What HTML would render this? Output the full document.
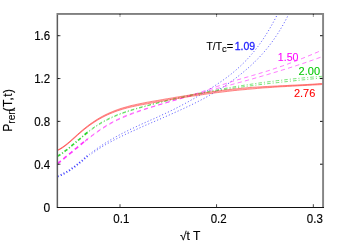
<!DOCTYPE html>
<html><head><meta charset="utf-8"><title>plot</title>
<style>
html,body{margin:0;padding:0;background:#fff;}
body{width:350px;height:245px;overflow:hidden;font-family:"Liberation Sans",sans-serif;}
svg{display:block;will-change:transform;}
text{font-family:"Liberation Sans",sans-serif;}
</style></head><body>
<svg width="350" height="245" viewBox="0 0 350 245">
<rect width="350" height="245" fill="#fff"/>
<defs><clipPath id="cp"><rect x="57.4" y="14" width="266" height="193.5"/></clipPath></defs>
<g clip-path="url(#cp)" fill="none" stroke-linecap="butt" stroke-linejoin="round">
<path d="M57.70,176.38C58.0,176.2 59.0,175.9 59.7,175.6C60.4,175.3 61.0,175.0 61.7,174.7C62.4,174.4 63.0,174.0 63.7,173.7C64.4,173.3 65.0,173.0 65.7,172.6C66.4,172.2 67.0,171.8 67.7,171.4C68.4,171.0 69.0,170.6 69.7,170.2C70.4,169.7 71.0,169.3 71.7,168.8C72.4,168.3 73.0,167.9 73.7,167.4C74.4,166.9 75.0,166.4 75.7,165.8C76.4,165.3 77.0,164.8 77.7,164.3C78.4,163.7 79.0,163.2 79.7,162.6C80.4,162.1 81.0,161.5 81.7,160.9C82.4,160.4 83.0,159.8 83.7,159.3C84.4,158.7 85.0,158.1 85.7,157.6C86.4,157.0 87.0,156.4 87.7,155.9C88.4,155.3 89.4,154.5 89.7,154.3" stroke="#4040ff" stroke-width="2" stroke-dasharray="1.1 2.1"/>
<path d="M91.70,152.50C92.0,152.2 93.0,151.5 93.7,151.0C94.4,150.5 95.0,150.0 95.7,149.6C96.4,149.1 97.0,148.6 97.7,148.1C98.4,147.7 99.0,147.2 99.7,146.8C100.4,146.3 101.0,145.9 101.7,145.4C102.4,145.0 103.0,144.6 103.7,144.1C104.4,143.7 105.0,143.3 105.7,142.8C106.4,142.4 107.0,142.0 107.7,141.6C108.4,141.2 109.0,140.8 109.7,140.4C110.4,140.0 111.0,139.6 111.7,139.2C112.4,138.8 113.0,138.4 113.7,138.1C114.4,137.7 115.0,137.3 115.7,136.9C116.4,136.6 117.0,136.2 117.7,135.8C118.4,135.5 119.0,135.1 119.7,134.8C120.4,134.4 121.0,134.1 121.7,133.7C122.4,133.4 123.0,133.0 123.7,132.7C124.4,132.3 125.0,132.0 125.7,131.7C126.4,131.3 127.0,131.0 127.7,130.7C128.4,130.4 129.0,130.0 129.7,129.7C130.4,129.4 131.0,129.1 131.7,128.7C132.4,128.4 133.0,128.1 133.7,127.8C134.4,127.5 135.0,127.2 135.7,126.9C136.4,126.6 137.0,126.3 137.7,125.9C138.4,125.6 139.0,125.3 139.7,125.0C140.4,124.7 141.0,124.4 141.7,124.1C142.4,123.8 143.0,123.5 143.7,123.2C144.4,122.9 145.0,122.6 145.7,122.3C146.4,122.0 147.0,121.7 147.7,121.4C148.4,121.1 149.0,120.8 149.7,120.5C150.4,120.2 151.0,119.9 151.7,119.7C152.4,119.4 153.0,119.1 153.7,118.8C154.4,118.5 155.0,118.2 155.7,117.9C156.4,117.6 157.0,117.3 157.7,117.0C158.4,116.7 159.0,116.4 159.7,116.1C160.4,115.7 161.0,115.4 161.7,115.1C162.4,114.8 163.0,114.5 163.7,114.2C164.4,113.9 165.0,113.6 165.7,113.3C166.4,113.0 167.0,112.7 167.7,112.3C168.4,112.0 169.0,111.7 169.7,111.4C170.4,111.1 171.0,110.7 171.7,110.4C172.4,110.1 173.0,109.7 173.7,109.4C174.4,109.1 175.0,108.7 175.7,108.4C176.4,108.1 177.0,107.7 177.7,107.4C178.4,107.0 179.0,106.7 179.7,106.3C180.4,106.0 181.0,105.7 181.7,105.3C182.4,104.9 183.0,104.6 183.7,104.2C184.4,103.9 185.0,103.5 185.7,103.2C186.4,102.8 187.0,102.4 187.7,102.1C188.4,101.7 189.0,101.3 189.7,100.9C190.4,100.6 191.0,100.2 191.7,99.8C192.4,99.4 193.0,99.1 193.7,98.7C194.4,98.3 195.0,97.9 195.7,97.5C196.4,97.1 197.0,96.7 197.7,96.4C198.4,96.0 199.0,95.6 199.7,95.2C200.4,94.8 201.0,94.4 201.7,94.0C202.4,93.6 203.0,93.2 203.7,92.8C204.4,92.4 205.0,91.9 205.7,91.5C206.4,91.1 207.0,90.7 207.7,90.3C208.4,89.9 209.0,89.5 209.7,89.0C210.4,88.6 211.0,88.2 211.7,87.8C212.4,87.3 213.0,86.9 213.7,86.5C214.4,86.0 215.0,85.6 215.7,85.2C216.4,84.7 217.0,84.3 217.7,83.8C218.4,83.4 219.0,82.9 219.7,82.5C220.4,82.0 221.0,81.6 221.7,81.1C222.4,80.6 223.0,80.2 223.7,79.7C224.4,79.2 225.0,78.7 225.7,78.2C226.4,77.8 227.0,77.3 227.7,76.8C228.4,76.2 229.0,75.7 229.7,75.2C230.4,74.7 231.0,74.2 231.7,73.6C232.4,73.1 233.0,72.5 233.7,72.0C234.4,71.4 235.0,70.9 235.7,70.3C236.4,69.7 237.0,69.1 237.7,68.5C238.4,67.9 239.0,67.3 239.7,66.7C240.4,66.1 241.0,65.5 241.7,64.8C242.4,64.2 243.0,63.5 243.7,62.9C244.4,62.2 245.0,61.5 245.7,60.9C246.4,60.2 247.0,59.5 247.7,58.7C248.4,58.0 249.0,57.3 249.7,56.5C250.4,55.8 251.0,55.0 251.7,54.2C252.4,53.5 253.0,52.7 253.7,51.8C254.4,51.0 255.0,50.2 255.7,49.4C256.4,48.5 257.0,47.6 257.7,46.8C258.4,45.9 259.0,45.0 259.7,44.0C260.4,43.1 261.0,42.2 261.7,41.2C262.4,40.3 263.0,39.3 263.7,38.3C264.4,37.3 265.0,36.2 265.7,35.2C266.4,34.1 267.0,33.1 267.7,32.0C268.4,30.9 269.0,29.8 269.7,28.6C270.4,27.5 271.0,26.3 271.7,25.1C272.4,23.9 273.0,22.7 273.7,21.5C274.4,20.3 275.0,19.0 275.7,17.7C276.4,16.4 277.3,14.6 277.6,14.0" stroke="#3030ff" stroke-width="0.92" stroke-opacity="0.85" stroke-dasharray="1.1 2.1"/>
<path d="M91.70,153.72C92.0,153.5 93.0,152.8 93.7,152.3C94.4,151.8 95.0,151.4 95.7,150.9C96.4,150.5 97.0,150.0 97.7,149.6C98.4,149.1 99.0,148.7 99.7,148.3C100.4,147.8 101.0,147.4 101.7,147.0C102.4,146.6 103.0,146.2 103.7,145.8C104.4,145.4 105.0,145.0 105.7,144.6C106.4,144.2 107.0,143.9 107.7,143.5C108.4,143.1 109.0,142.7 109.7,142.4C110.4,142.0 111.0,141.6 111.7,141.3C112.4,140.9 113.0,140.6 113.7,140.2C114.4,139.9 115.0,139.5 115.7,139.2C116.4,138.9 117.0,138.5 117.7,138.2C118.4,137.8 119.0,137.5 119.7,137.2C120.4,136.9 121.0,136.5 121.7,136.2C122.4,135.9 123.0,135.6 123.7,135.2C124.4,134.9 125.0,134.6 125.7,134.3C126.4,134.0 127.0,133.7 127.7,133.3C128.4,133.0 129.0,132.7 129.7,132.4C130.4,132.1 131.0,131.8 131.7,131.5C132.4,131.2 133.0,130.9 133.7,130.6C134.4,130.3 135.0,130.0 135.7,129.7C136.4,129.4 137.0,129.1 137.7,128.8C138.4,128.5 139.0,128.2 139.7,127.9C140.4,127.6 141.0,127.3 141.7,127.0C142.4,126.7 143.0,126.4 143.7,126.1C144.4,125.8 145.0,125.5 145.7,125.2C146.4,125.0 147.0,124.7 147.7,124.4C148.4,124.1 149.0,123.8 149.7,123.5C150.4,123.2 151.0,122.9 151.7,122.6C152.4,122.3 153.0,122.1 153.7,121.8C154.4,121.5 155.0,121.2 155.7,120.9C156.4,120.6 157.0,120.3 157.7,120.0C158.4,119.7 159.0,119.4 159.7,119.2C160.4,118.9 161.0,118.6 161.7,118.3C162.4,118.0 163.0,117.7 163.7,117.4C164.4,117.1 165.0,116.8 165.7,116.5C166.4,116.3 167.0,116.0 167.7,115.7C168.4,115.4 169.0,115.1 169.7,114.8C170.4,114.5 171.0,114.2 171.7,113.9C172.4,113.6 173.0,113.3 173.7,113.0C174.4,112.7 175.0,112.4 175.7,112.1C176.4,111.8 177.0,111.5 177.7,111.2C178.4,110.9 179.0,110.6 179.7,110.3C180.4,110.0 181.0,109.7 181.7,109.4C182.4,109.1 183.0,108.8 183.7,108.5C184.4,108.2 185.0,107.9 185.7,107.5C186.4,107.2 187.0,106.9 187.7,106.6C188.4,106.3 189.0,106.0 189.7,105.7C190.4,105.3 191.0,105.0 191.7,104.7C192.4,104.4 193.0,104.0 193.7,103.7C194.4,103.4 195.0,103.0 195.7,102.7C196.4,102.4 197.0,102.0 197.7,101.7C198.4,101.4 199.0,101.0 199.7,100.7C200.4,100.3 201.0,100.0 201.7,99.6C202.4,99.3 203.0,98.9 203.7,98.6C204.4,98.2 205.0,97.8 205.7,97.5C206.4,97.1 207.0,96.7 207.7,96.4C208.4,96.0 209.0,95.6 209.7,95.2C210.4,94.9 211.0,94.5 211.7,94.1C212.4,93.7 213.0,93.3 213.7,92.9C214.4,92.5 215.0,92.1 215.7,91.7C216.4,91.3 217.0,90.9 217.7,90.5C218.4,90.1 219.0,89.7 219.7,89.2C220.4,88.8 221.0,88.4 221.7,88.0C222.4,87.5 223.0,87.1 223.7,86.7C224.4,86.2 225.0,85.8 225.7,85.3C226.4,84.9 227.0,84.4 227.7,84.0C228.4,83.5 229.0,83.0 229.7,82.6C230.4,82.1 231.0,81.6 231.7,81.1C232.4,80.6 233.0,80.2 233.7,79.7C234.4,79.2 235.0,78.7 235.7,78.2C236.4,77.7 237.0,77.1 237.7,76.6C238.4,76.1 239.0,75.6 239.7,75.0C240.4,74.5 241.0,74.0 241.7,73.4C242.4,72.9 243.0,72.3 243.7,71.8C244.4,71.2 245.0,70.7 245.7,70.1C246.4,69.5 247.0,68.9 247.7,68.4C248.4,67.8 249.0,67.2 249.7,66.6C250.4,66.0 251.0,65.4 251.7,64.8C252.4,64.1 253.0,63.5 253.7,62.9C254.4,62.3 255.0,61.6 255.7,60.9C256.4,60.3 257.0,59.6 257.7,58.9C258.4,58.3 259.0,57.6 259.7,56.9C260.4,56.1 261.0,55.4 261.7,54.7C262.4,54.0 263.0,53.2 263.7,52.4C264.4,51.7 265.0,50.9 265.7,50.1C266.4,49.3 267.0,48.5 267.7,47.6C268.4,46.8 269.0,46.0 269.7,45.1C270.4,44.2 271.0,43.3 271.7,42.4C272.4,41.5 273.0,40.6 273.7,39.6C274.4,38.7 275.0,37.7 275.7,36.7C276.4,35.7 277.0,34.7 277.7,33.7C278.4,32.6 279.0,31.6 279.7,30.5C280.4,29.4 281.0,28.3 281.7,27.2C282.4,26.0 283.0,24.9 283.7,23.7C284.4,22.5 285.0,21.3 285.7,20.0C286.4,18.8 287.1,17.3 287.7,16.2C288.2,15.1 288.8,14.1 289.0,13.6" stroke="#3030ff" stroke-width="0.92" stroke-opacity="0.85" stroke-dasharray="1.1 2.1"/>
<path d="M57.40,163.59C57.8,163.3 59.1,162.3 59.9,161.7C60.7,161.0 61.6,160.4 62.4,159.7C63.2,159.0 64.1,158.4 64.9,157.7C65.7,157.0 66.6,156.3 67.4,155.6C68.2,155.0 69.1,154.3 69.9,153.6C70.7,152.9 71.6,152.2 72.4,151.5C73.2,150.8 74.1,150.1 74.9,149.4C75.7,148.7 76.6,148.0 77.4,147.3C78.2,146.7 79.1,146.0 79.9,145.3C80.7,144.6 81.6,143.9 82.4,143.2C83.2,142.6 84.1,141.9 84.9,141.2C85.7,140.6 87.0,139.6 87.4,139.3" stroke="#ff38ff" stroke-width="1.7" stroke-dasharray="4.3 3.2"/>
<path d="M84.90,140.84C85.3,140.5 86.6,139.5 87.4,138.9C88.2,138.2 89.1,137.6 89.9,136.9C90.7,136.3 91.6,135.7 92.4,135.1C93.2,134.4 94.1,133.8 94.9,133.2C95.7,132.6 96.6,132.0 97.4,131.4C98.2,130.8 99.1,130.3 99.9,129.7C100.7,129.1 101.6,128.6 102.4,128.0C103.2,127.5 104.1,126.9 104.9,126.4C105.7,125.9 106.6,125.3 107.4,124.8C108.2,124.3 109.1,123.8 109.9,123.4C110.7,122.9 111.6,122.4 112.4,122.0C113.2,121.5 114.1,121.1 114.9,120.7C115.7,120.2 116.6,119.8 117.4,119.4C118.2,119.0 119.1,118.6 119.9,118.2C120.7,117.8 121.6,117.5 122.4,117.1C123.2,116.7 124.1,116.4 124.9,116.0C125.7,115.7 126.6,115.4 127.4,115.0C128.2,114.7 129.1,114.4 129.9,114.1C130.7,113.8 131.6,113.4 132.4,113.1C133.2,112.8 134.1,112.5 134.9,112.3C135.7,112.0 136.6,111.7 137.4,111.4C138.2,111.1 139.1,110.8 139.9,110.6C140.7,110.3 141.6,110.0 142.4,109.7C143.2,109.5 144.1,109.2 144.9,108.9C145.7,108.7 146.6,108.4 147.4,108.2C148.2,107.9 149.1,107.6 149.9,107.4C150.7,107.1 151.6,106.9 152.4,106.6C153.2,106.4 154.1,106.1 154.9,105.9C155.7,105.6 156.6,105.4 157.4,105.1C158.2,104.9 159.1,104.6 159.9,104.4C160.7,104.2 161.6,103.9 162.4,103.7C163.2,103.4 164.1,103.2 164.9,102.9C165.7,102.7 166.6,102.5 167.4,102.2C168.2,102.0 169.1,101.7 169.9,101.5C170.7,101.3 171.6,101.0 172.4,100.8C173.2,100.5 174.1,100.3 174.9,100.0C175.7,99.8 176.6,99.6 177.4,99.3C178.2,99.1 179.1,98.8 179.9,98.6C180.7,98.3 181.6,98.1 182.4,97.8C183.2,97.5 184.1,97.3 184.9,97.0C185.7,96.8 186.6,96.5 187.4,96.3C188.2,96.0 189.1,95.8 189.9,95.5C190.7,95.3 191.6,95.0 192.4,94.8C193.2,94.5 194.1,94.2 194.9,94.0C195.7,93.7 196.6,93.4 197.4,93.2C198.2,92.9 199.1,92.6 199.9,92.4C200.7,92.1 201.6,91.8 202.4,91.5C203.2,91.3 204.1,91.0 204.9,90.7C205.7,90.4 206.6,90.1 207.4,89.8C208.2,89.6 209.1,89.3 209.9,89.0C210.7,88.7 211.6,88.4 212.4,88.1C213.2,87.8 214.1,87.5 214.9,87.2C215.7,87.0 216.6,86.7 217.4,86.4C218.2,86.1 219.1,85.8 219.9,85.5C220.7,85.2 221.6,85.0 222.4,84.7C223.2,84.4 224.1,84.1 224.9,83.9C225.7,83.6 226.6,83.3 227.4,83.0C228.2,82.8 229.1,82.5 229.9,82.2C230.7,82.0 231.6,81.7 232.4,81.4C233.2,81.2 234.1,80.9 234.9,80.7C235.7,80.4 236.6,80.2 237.4,79.9C238.2,79.7 239.1,79.4 239.9,79.2C240.7,78.9 241.6,78.7 242.4,78.4C243.2,78.2 244.1,77.9 244.9,77.7C245.7,77.5 246.6,77.2 247.4,77.0C248.2,76.7 249.1,76.5 249.9,76.2C250.7,76.0 251.6,75.8 252.4,75.5C253.2,75.3 254.1,75.0 254.9,74.8C255.7,74.5 256.6,74.3 257.4,74.1C258.2,73.8 259.1,73.6 259.9,73.3C260.7,73.1 261.6,72.8 262.4,72.5C263.2,72.3 264.1,72.0 264.9,71.8C265.7,71.5 266.6,71.3 267.4,71.0C268.2,70.7 269.1,70.5 269.9,70.2C270.7,69.9 271.6,69.6 272.4,69.4C273.2,69.1 274.1,68.8 274.9,68.5C275.7,68.3 276.6,68.0 277.4,67.7C278.2,67.4 279.1,67.1 279.9,66.8C280.7,66.5 281.6,66.2 282.4,66.0C283.2,65.7 284.1,65.4 284.9,65.1C285.7,64.8 286.6,64.5 287.4,64.2C288.2,63.9 289.1,63.5 289.9,63.2C290.7,62.9 291.6,62.6 292.4,62.3C293.2,62.0 294.1,61.7 294.9,61.4C295.7,61.0 296.6,60.7 297.4,60.4C298.2,60.1 299.1,59.7 299.9,59.4C300.7,59.1 301.6,58.7 302.4,58.4C303.2,58.1 304.1,57.7 304.9,57.4C305.7,57.1 306.6,56.7 307.4,56.4C308.2,56.0 309.1,55.7 309.9,55.3C310.7,55.0 311.6,54.7 312.4,54.3C313.2,53.9 314.1,53.6 314.9,53.2C315.7,52.9 316.6,52.5 317.4,52.2C318.2,51.8 319.1,51.4 319.9,51.1C320.7,50.7 321.8,50.2 322.4,50.0C323.0,49.7 323.3,49.5 323.5,49.5" stroke="#ff28ff" stroke-width="0.8" stroke-opacity="0.78" stroke-dasharray="4.3 3.2"/>
<path d="M84.90,141.55C85.3,141.2 86.6,140.2 87.4,139.6C88.2,138.9 89.1,138.3 89.9,137.6C90.7,137.0 91.6,136.4 92.4,135.7C93.2,135.1 94.1,134.5 94.9,133.9C95.7,133.3 96.6,132.7 97.4,132.1C98.2,131.5 99.1,130.9 99.9,130.3C100.7,129.8 101.6,129.2 102.4,128.7C103.2,128.1 104.1,127.6 104.9,127.1C105.7,126.6 106.6,126.0 107.4,125.5C108.2,125.0 109.1,124.6 109.9,124.1C110.7,123.6 111.6,123.1 112.4,122.7C113.2,122.3 114.1,121.8 114.9,121.4C115.7,121.0 116.6,120.5 117.4,120.1C118.2,119.7 119.1,119.3 119.9,119.0C120.7,118.6 121.6,118.2 122.4,117.8C123.2,117.5 124.1,117.1 124.9,116.8C125.7,116.4 126.6,116.1 127.4,115.7C128.2,115.4 129.1,115.1 129.9,114.8C130.7,114.4 131.6,114.1 132.4,113.8C133.2,113.5 134.1,113.2 134.9,112.9C135.7,112.6 136.6,112.3 137.4,112.0C138.2,111.7 139.1,111.4 139.9,111.1C140.7,110.8 141.6,110.6 142.4,110.3C143.2,110.0 144.1,109.7 144.9,109.4C145.7,109.2 146.6,108.9 147.4,108.6C148.2,108.3 149.1,108.1 149.9,107.8C150.7,107.5 151.6,107.3 152.4,107.0C153.2,106.7 154.1,106.5 154.9,106.2C155.7,106.0 156.6,105.7 157.4,105.4C158.2,105.2 159.1,104.9 159.9,104.7C160.7,104.4 161.6,104.2 162.4,103.9C163.2,103.7 164.1,103.4 164.9,103.2C165.7,102.9 166.6,102.7 167.4,102.5C168.2,102.2 169.1,102.0 169.9,101.7C170.7,101.5 171.6,101.2 172.4,101.0C173.2,100.8 174.1,100.5 174.9,100.3C175.7,100.1 176.6,99.8 177.4,99.6C178.2,99.4 179.1,99.1 179.9,98.9C180.7,98.7 181.6,98.4 182.4,98.2C183.2,98.0 184.1,97.7 184.9,97.5C185.7,97.3 186.6,97.0 187.4,96.8C188.2,96.6 189.1,96.3 189.9,96.1C190.7,95.8 191.6,95.6 192.4,95.4C193.2,95.1 194.1,94.9 194.9,94.6C195.7,94.4 196.6,94.2 197.4,93.9C198.2,93.7 199.1,93.4 199.9,93.2C200.7,93.0 201.6,92.7 202.4,92.5C203.2,92.3 204.1,92.0 204.9,91.8C205.7,91.6 206.6,91.3 207.4,91.1C208.2,90.9 209.1,90.7 209.9,90.4C210.7,90.2 211.6,90.0 212.4,89.8C213.2,89.6 214.1,89.3 214.9,89.1C215.7,88.9 216.6,88.7 217.4,88.4C218.2,88.2 219.1,88.0 219.9,87.8C220.7,87.5 221.6,87.3 222.4,87.1C223.2,86.9 224.1,86.6 224.9,86.4C225.7,86.2 226.6,86.0 227.4,85.7C228.2,85.5 229.1,85.3 229.9,85.1C230.7,84.8 231.6,84.6 232.4,84.4C233.2,84.2 234.1,83.9 234.9,83.7C235.7,83.5 236.6,83.3 237.4,83.0C238.2,82.8 239.1,82.6 239.9,82.3C240.7,82.1 241.6,81.9 242.4,81.7C243.2,81.4 244.1,81.2 244.9,81.0C245.7,80.7 246.6,80.5 247.4,80.3C248.2,80.0 249.1,79.8 249.9,79.6C250.7,79.3 251.6,79.1 252.4,78.9C253.2,78.6 254.1,78.4 254.9,78.2C255.7,77.9 256.6,77.7 257.4,77.5C258.2,77.2 259.1,77.0 259.9,76.7C260.7,76.5 261.6,76.3 262.4,76.0C263.2,75.8 264.1,75.5 264.9,75.3C265.7,75.1 266.6,74.8 267.4,74.6C268.2,74.3 269.1,74.1 269.9,73.8C270.7,73.6 271.6,73.3 272.4,73.1C273.2,72.8 274.1,72.6 274.9,72.3C275.7,72.1 276.6,71.8 277.4,71.6C278.2,71.3 279.1,71.1 279.9,70.8C280.7,70.6 281.6,70.3 282.4,70.0C283.2,69.8 284.1,69.5 284.9,69.3C285.7,69.0 286.6,68.7 287.4,68.5C288.2,68.2 289.1,68.0 289.9,67.7C290.7,67.4 291.6,67.2 292.4,66.9C293.2,66.6 294.1,66.4 294.9,66.1C295.7,65.8 296.6,65.5 297.4,65.3C298.2,65.0 299.1,64.7 299.9,64.4C300.7,64.2 301.6,63.9 302.4,63.6C303.2,63.3 304.1,63.0 304.9,62.8C305.7,62.5 306.6,62.2 307.4,61.9C308.2,61.6 309.1,61.3 309.9,61.0C310.7,60.7 311.6,60.4 312.4,60.2C313.2,59.9 314.1,59.6 314.9,59.3C315.7,59.0 316.6,58.7 317.4,58.4C318.2,58.1 319.1,57.8 319.9,57.5C320.7,57.2 321.8,56.8 322.4,56.5C323.0,56.3 323.3,56.2 323.5,56.1" stroke="#ff28ff" stroke-width="0.8" stroke-opacity="0.78" stroke-dasharray="4.3 3.2"/>
<path d="M57.40,156.41C57.8,156.1 59.1,155.4 59.9,154.8C60.7,154.3 61.6,153.7 62.4,153.1C63.2,152.5 64.1,151.9 64.9,151.2C65.7,150.6 66.6,150.0 67.4,149.3C68.2,148.6 69.1,148.0 69.9,147.3C70.7,146.6 71.6,145.9 72.4,145.2C73.2,144.5 74.1,143.8 74.9,143.1C75.7,142.4 76.6,141.6 77.4,140.9C78.2,140.2 79.1,139.5 79.9,138.8C80.7,138.1 81.6,137.3 82.4,136.6C83.2,135.9 84.1,135.2 84.9,134.5C85.7,133.8 87.0,132.8 87.4,132.5" stroke="#38d838" stroke-width="1.7" stroke-dasharray="3.6 2 1.1 2"/>
<path d="M84.90,134.13C85.3,133.8 86.6,132.8 87.4,132.1C88.2,131.4 89.1,130.8 89.9,130.1C90.7,129.5 91.6,128.9 92.4,128.3C93.2,127.7 94.1,127.1 94.9,126.5C95.7,126.0 96.6,125.4 97.4,124.9C98.2,124.3 99.1,123.8 99.9,123.3C100.7,122.8 101.6,122.3 102.4,121.8C103.2,121.4 104.1,120.9 104.9,120.5C105.7,120.0 106.6,119.6 107.4,119.2C108.2,118.7 109.1,118.3 109.9,117.9C110.7,117.5 111.6,117.2 112.4,116.8C113.2,116.4 114.1,116.1 114.9,115.7C115.7,115.4 116.6,115.0 117.4,114.7C118.2,114.4 119.1,114.0 119.9,113.7C120.7,113.4 121.6,113.1 122.4,112.8C123.2,112.5 124.1,112.2 124.9,112.0C125.7,111.7 126.6,111.4 127.4,111.1C128.2,110.9 129.1,110.6 129.9,110.3C130.7,110.1 131.6,109.8 132.4,109.6C133.2,109.3 134.1,109.1 134.9,108.8C135.7,108.6 136.6,108.4 137.4,108.1C138.2,107.9 139.1,107.7 139.9,107.4C140.7,107.2 141.6,107.0 142.4,106.7C143.2,106.5 144.1,106.3 144.9,106.1C145.7,105.8 146.6,105.6 147.4,105.4C148.2,105.2 149.1,104.9 149.9,104.7C150.7,104.5 151.6,104.3 152.4,104.0C153.2,103.8 154.1,103.6 154.9,103.4C155.7,103.2 156.6,103.0 157.4,102.7C158.2,102.5 159.1,102.3 159.9,102.1C160.7,101.9 161.6,101.7 162.4,101.5C163.2,101.3 164.1,101.1 164.9,100.9C165.7,100.6 166.6,100.4 167.4,100.2C168.2,100.0 169.1,99.8 169.9,99.6C170.7,99.4 171.6,99.2 172.4,99.0C173.2,98.8 174.1,98.6 174.9,98.4C175.7,98.2 176.6,98.0 177.4,97.9C178.2,97.7 179.1,97.5 179.9,97.3C180.7,97.1 181.6,96.9 182.4,96.7C183.2,96.5 184.1,96.3 184.9,96.1C185.7,96.0 186.6,95.8 187.4,95.6C188.2,95.4 189.1,95.2 189.9,95.0C190.7,94.9 191.6,94.7 192.4,94.5C193.2,94.3 194.1,94.1 194.9,94.0C195.7,93.8 196.6,93.6 197.4,93.5C198.2,93.3 199.1,93.2 199.9,93.0C200.7,92.8 201.6,92.7 202.4,92.5C203.2,92.4 204.1,92.2 204.9,92.1C205.7,91.9 206.6,91.7 207.4,91.6C208.2,91.4 209.1,91.3 209.9,91.1C210.7,91.0 211.6,90.8 212.4,90.7C213.2,90.6 214.1,90.4 214.9,90.3C215.7,90.1 216.6,90.0 217.4,89.8C218.2,89.6 219.1,89.5 219.9,89.3C220.7,89.2 221.6,89.0 222.4,88.9C223.2,88.7 224.1,88.6 224.9,88.4C225.7,88.3 226.6,88.1 227.4,88.0C228.2,87.9 229.1,87.7 229.9,87.6C230.7,87.4 231.6,87.3 232.4,87.1C233.2,87.0 234.1,86.9 234.9,86.7C235.7,86.6 236.6,86.4 237.4,86.3C238.2,86.2 239.1,86.0 239.9,85.9C240.7,85.8 241.6,85.6 242.4,85.5C243.2,85.4 244.1,85.2 244.9,85.1C245.7,85.0 246.6,84.9 247.4,84.7C248.2,84.6 249.1,84.5 249.9,84.4C250.7,84.2 251.6,84.1 252.4,84.0C253.2,83.9 254.1,83.7 254.9,83.6C255.7,83.5 256.6,83.4 257.4,83.3C258.2,83.1 259.1,83.0 259.9,82.9C260.7,82.8 261.6,82.7 262.4,82.6C263.2,82.5 264.1,82.3 264.9,82.2C265.7,82.1 266.6,82.0 267.4,81.9C268.2,81.8 269.1,81.7 269.9,81.6C270.7,81.5 271.6,81.4 272.4,81.3C273.2,81.2 274.1,81.1 274.9,81.0C275.7,80.9 276.6,80.7 277.4,80.6C278.2,80.5 279.1,80.4 279.9,80.4C280.7,80.3 281.6,80.2 282.4,80.1C283.2,80.0 284.1,79.9 284.9,79.8C285.7,79.7 286.6,79.6 287.4,79.5C288.2,79.4 289.1,79.3 289.9,79.2C290.7,79.1 291.6,79.1 292.4,79.0C293.2,78.9 294.1,78.8 294.9,78.7C295.7,78.6 296.6,78.5 297.4,78.5C298.2,78.4 299.1,78.3 299.9,78.2C300.7,78.1 301.6,78.1 302.4,78.0C303.2,77.9 304.1,77.8 304.9,77.7C305.7,77.7 306.6,77.6 307.4,77.5C308.2,77.4 309.1,77.4 309.9,77.3C310.7,77.2 311.6,77.1 312.4,77.1C313.2,77.0 314.1,76.9 314.9,76.9C315.7,76.8 316.6,76.7 317.4,76.7C318.2,76.6 319.1,76.5 319.9,76.5C320.7,76.4 321.8,76.3 322.4,76.3C323.0,76.2 323.3,76.2 323.5,76.2" stroke="#28d428" stroke-width="0.8" stroke-opacity="0.78" stroke-dasharray="3.6 2 1.1 2"/>
<path d="M84.90,134.90C85.3,134.6 86.6,133.5 87.4,132.9C88.2,132.2 89.1,131.6 89.9,130.9C90.7,130.3 91.6,129.7 92.4,129.1C93.2,128.5 94.1,127.9 94.9,127.3C95.7,126.7 96.6,126.2 97.4,125.6C98.2,125.1 99.1,124.6 99.9,124.1C100.7,123.5 101.6,123.1 102.4,122.6C103.2,122.1 104.1,121.6 104.9,121.2C105.7,120.7 106.6,120.3 107.4,119.9C108.2,119.5 109.1,119.1 109.9,118.7C110.7,118.3 111.6,117.9 112.4,117.5C113.2,117.1 114.1,116.7 114.9,116.4C115.7,116.0 116.6,115.7 117.4,115.3C118.2,115.0 119.1,114.7 119.9,114.4C120.7,114.0 121.6,113.7 122.4,113.4C123.2,113.1 124.1,112.8 124.9,112.5C125.7,112.2 126.6,112.0 127.4,111.7C128.2,111.4 129.1,111.1 129.9,110.9C130.7,110.6 131.6,110.3 132.4,110.1C133.2,109.8 134.1,109.6 134.9,109.3C135.7,109.1 136.6,108.8 137.4,108.6C138.2,108.4 139.1,108.1 139.9,107.9C140.7,107.7 141.6,107.4 142.4,107.2C143.2,107.0 144.1,106.7 144.9,106.5C145.7,106.3 146.6,106.0 147.4,105.8C148.2,105.6 149.1,105.4 149.9,105.2C150.7,104.9 151.6,104.7 152.4,104.5C153.2,104.3 154.1,104.1 154.9,103.9C155.7,103.6 156.6,103.4 157.4,103.2C158.2,103.0 159.1,102.8 159.9,102.6C160.7,102.4 161.6,102.2 162.4,102.0C163.2,101.8 164.1,101.6 164.9,101.4C165.7,101.2 166.6,101.0 167.4,100.8C168.2,100.6 169.1,100.4 169.9,100.2C170.7,100.0 171.6,99.8 172.4,99.6C173.2,99.5 174.1,99.3 174.9,99.1C175.7,98.9 176.6,98.7 177.4,98.5C178.2,98.4 179.1,98.2 179.9,98.0C180.7,97.8 181.6,97.6 182.4,97.5C183.2,97.3 184.1,97.1 184.9,96.9C185.7,96.8 186.6,96.6 187.4,96.4C188.2,96.3 189.1,96.1 189.9,95.9C190.7,95.8 191.6,95.6 192.4,95.4C193.2,95.3 194.1,95.1 194.9,94.9C195.7,94.8 196.6,94.6 197.4,94.4C198.2,94.3 199.1,94.1 199.9,93.9C200.7,93.8 201.6,93.6 202.4,93.4C203.2,93.3 204.1,93.1 204.9,92.9C205.7,92.8 206.6,92.6 207.4,92.5C208.2,92.3 209.1,92.2 209.9,92.0C210.7,91.8 211.6,91.7 212.4,91.5C213.2,91.4 214.1,91.2 214.9,91.1C215.7,90.9 216.6,90.8 217.4,90.7C218.2,90.5 219.1,90.4 219.9,90.3C220.7,90.1 221.6,90.0 222.4,89.9C223.2,89.7 224.1,89.6 224.9,89.5C225.7,89.3 226.6,89.2 227.4,89.1C228.2,89.0 229.1,88.8 229.9,88.7C230.7,88.6 231.6,88.5 232.4,88.3C233.2,88.2 234.1,88.1 234.9,88.0C235.7,87.8 236.6,87.7 237.4,87.6C238.2,87.5 239.1,87.4 239.9,87.3C240.7,87.1 241.6,87.0 242.4,86.9C243.2,86.8 244.1,86.7 244.9,86.6C245.7,86.5 246.6,86.3 247.4,86.2C248.2,86.1 249.1,86.0 249.9,85.9C250.7,85.8 251.6,85.7 252.4,85.6C253.2,85.5 254.1,85.4 254.9,85.3C255.7,85.1 256.6,85.0 257.4,84.9C258.2,84.8 259.1,84.7 259.9,84.6C260.7,84.5 261.6,84.4 262.4,84.3C263.2,84.2 264.1,84.1 264.9,84.0C265.7,83.9 266.6,83.8 267.4,83.7C268.2,83.6 269.1,83.5 269.9,83.4C270.7,83.3 271.6,83.2 272.4,83.1C273.2,83.0 274.1,83.0 274.9,82.9C275.7,82.8 276.6,82.7 277.4,82.6C278.2,82.5 279.1,82.4 279.9,82.3C280.7,82.2 281.6,82.1 282.4,82.0C283.2,81.9 284.1,81.8 284.9,81.8C285.7,81.7 286.6,81.6 287.4,81.5C288.2,81.4 289.1,81.3 289.9,81.2C290.7,81.1 291.6,81.0 292.4,81.0C293.2,80.9 294.1,80.8 294.9,80.7C295.7,80.6 296.6,80.5 297.4,80.4C298.2,80.3 299.1,80.3 299.9,80.2C300.7,80.1 301.6,80.0 302.4,79.9C303.2,79.8 304.1,79.8 304.9,79.7C305.7,79.6 306.6,79.5 307.4,79.4C308.2,79.3 309.1,79.3 309.9,79.2C310.7,79.1 311.6,79.0 312.4,78.9C313.2,78.8 314.1,78.8 314.9,78.7C315.7,78.6 316.6,78.5 317.4,78.4C318.2,78.4 319.1,78.3 319.9,78.2C320.7,78.1 321.8,78.0 322.4,78.0C323.0,77.9 323.3,77.9 323.5,77.8" stroke="#28d428" stroke-width="0.8" stroke-opacity="0.78" stroke-dasharray="3.6 2 1.1 2"/>
<path d="M57.40,150.04C57.8,149.8 59.1,149.2 59.9,148.8C60.7,148.3 61.6,147.8 62.4,147.2C63.2,146.6 64.1,146.0 64.9,145.4C65.7,144.8 66.6,144.1 67.4,143.4C68.2,142.7 69.1,142.0 69.9,141.3C70.7,140.5 71.6,139.8 72.4,139.0C73.2,138.3 74.1,137.5 74.9,136.8C75.7,136.0 76.6,135.2 77.4,134.5C78.2,133.7 79.1,133.0 79.9,132.3C80.7,131.5 81.6,130.8 82.4,130.1C83.2,129.4 84.1,128.7 84.9,128.1C85.7,127.4 86.6,126.7 87.4,126.1C88.2,125.5 89.1,124.8 89.9,124.2C90.7,123.6 91.6,123.0 92.4,122.5C93.2,121.9 94.1,121.3 94.9,120.8C95.7,120.2 96.6,119.7 97.4,119.2C98.2,118.7 99.1,118.2 99.9,117.7C100.7,117.2 101.6,116.8 102.4,116.3C103.2,115.9 104.1,115.4 104.9,115.0C105.7,114.6 106.6,114.2 107.4,113.8C108.2,113.4 109.1,113.0 109.9,112.7C110.7,112.3 111.6,111.9 112.4,111.6C113.2,111.3 114.1,110.9 114.9,110.6C115.7,110.3 116.6,110.0 117.4,109.7C118.2,109.4 119.1,109.1 119.9,108.8C120.7,108.6 121.6,108.3 122.4,108.0C123.2,107.8 124.1,107.5 124.9,107.3C125.7,107.1 126.6,106.8 127.4,106.6C128.2,106.4 129.1,106.2 129.9,105.9C130.7,105.7 131.6,105.5 132.4,105.3C133.2,105.1 134.1,104.9 134.9,104.8C135.7,104.6 136.6,104.4 137.4,104.2C138.2,104.0 139.1,103.9 139.9,103.7C140.7,103.5 141.6,103.4 142.4,103.2C143.2,103.0 144.1,102.9 144.9,102.7C145.7,102.6 146.6,102.4 147.4,102.2C148.2,102.1 149.1,101.9 149.9,101.8C150.7,101.6 151.6,101.5 152.4,101.3C153.2,101.2 154.1,101.0 154.9,100.9C155.7,100.8 156.6,100.6 157.4,100.5C158.2,100.3 159.1,100.2 159.9,100.0C160.7,99.9 161.6,99.7 162.4,99.6C163.2,99.4 164.1,99.3 164.9,99.1C165.7,99.0 166.6,98.9 167.4,98.7C168.2,98.6 169.1,98.4 169.9,98.3C170.7,98.1 171.6,98.0 172.4,97.9C173.2,97.7 174.1,97.6 174.9,97.4C175.7,97.3 176.6,97.2 177.4,97.0C178.2,96.9 179.1,96.7 179.9,96.6C180.7,96.5 181.6,96.3 182.4,96.2C183.2,96.1 184.1,95.9 184.9,95.8C185.7,95.7 186.6,95.5 187.4,95.4C188.2,95.3 189.1,95.1 189.9,95.0C190.7,94.9 191.6,94.7 192.4,94.6C193.2,94.5 194.1,94.3 194.9,94.2C195.7,94.1 196.6,94.0 197.4,93.8C198.2,93.7 199.1,93.6 199.9,93.5C200.7,93.3 201.6,93.2 202.4,93.1C203.2,93.0 204.1,92.9 204.9,92.7C205.7,92.6 206.6,92.5 207.4,92.4C208.2,92.3 209.1,92.2 209.9,92.0C210.7,91.9 211.6,91.8 212.4,91.7C213.2,91.6 214.1,91.5 214.9,91.4C215.7,91.3 216.6,91.1 217.4,91.0C218.2,90.9 219.1,90.8 219.9,90.7C220.7,90.6 221.6,90.5 222.4,90.4C223.2,90.3 224.1,90.2 224.9,90.1C225.7,90.0 226.6,89.9 227.4,89.8C228.2,89.7 229.1,89.6 229.9,89.5C230.7,89.4 231.6,89.3 232.4,89.2C233.2,89.1 234.1,89.1 234.9,89.0C235.7,88.9 236.6,88.8 237.4,88.7C238.2,88.6 239.1,88.5 239.9,88.4C240.7,88.4 241.6,88.3 242.4,88.2C243.2,88.1 244.1,88.0 244.9,88.0C245.7,87.9 246.6,87.8 247.4,87.7C248.2,87.7 249.1,87.6 249.9,87.5C250.7,87.5 251.6,87.4 252.4,87.3C253.2,87.3 254.1,87.2 254.9,87.2C255.7,87.1 256.6,87.1 257.4,87.0C258.2,87.0 259.1,86.9 259.9,86.9C260.7,86.8 261.6,86.8 262.4,86.7C263.2,86.7 264.1,86.6 264.9,86.6C265.7,86.5 266.6,86.5 267.4,86.5C268.2,86.4 269.1,86.4 269.9,86.3C270.7,86.3 271.6,86.3 272.4,86.2C273.2,86.2 274.1,86.1 274.9,86.1C275.7,86.1 276.6,86.0 277.4,86.0C278.2,85.9 279.1,85.9 279.9,85.8C280.7,85.8 281.6,85.8 282.4,85.7C283.2,85.7 284.1,85.6 284.9,85.6C285.7,85.6 286.6,85.5 287.4,85.5C288.2,85.4 289.1,85.4 289.9,85.3C290.7,85.3 291.6,85.3 292.4,85.2C293.2,85.2 294.1,85.1 294.9,85.1C295.7,85.1 296.6,85.0 297.4,85.0C298.2,84.9 299.1,84.9 299.9,84.9C300.7,84.8 301.6,84.8 302.4,84.7C303.2,84.7 304.1,84.6 304.9,84.6C305.7,84.6 306.6,84.5 307.4,84.5C308.2,84.4 309.1,84.4 309.9,84.3C310.7,84.3 311.6,84.2 312.4,84.2C313.2,84.1 314.1,84.0 314.9,84.0C315.7,83.9 316.6,83.9 317.4,83.8C318.2,83.7 319.1,83.7 319.9,83.6C320.7,83.6 321.8,83.5 322.4,83.4C323.0,83.4 323.3,83.4 323.5,83.3" stroke="#ff3030" stroke-width="0.85" stroke-opacity="0.68"/>
<path d="M57.40,150.35C57.8,150.1 59.1,149.6 59.9,149.1C60.7,148.6 61.6,148.1 62.4,147.5C63.2,147.0 64.1,146.4 64.9,145.8C65.7,145.1 66.6,144.5 67.4,143.8C68.2,143.1 69.1,142.4 69.9,141.7C70.7,141.0 71.6,140.2 72.4,139.5C73.2,138.7 74.1,138.0 74.9,137.2C75.7,136.5 76.6,135.7 77.4,134.9C78.2,134.2 79.1,133.4 79.9,132.7C80.7,132.0 81.6,131.3 82.4,130.6C83.2,129.9 84.1,129.2 84.9,128.5C85.7,127.9 86.6,127.2 87.4,126.6C88.2,126.0 89.1,125.3 89.9,124.7C90.7,124.1 91.6,123.5 92.4,123.0C93.2,122.4 94.1,121.8 94.9,121.3C95.7,120.8 96.6,120.2 97.4,119.7C98.2,119.2 99.1,118.7 99.9,118.2C100.7,117.8 101.6,117.3 102.4,116.9C103.2,116.4 104.1,116.0 104.9,115.6C105.7,115.1 106.6,114.7 107.4,114.4C108.2,114.0 109.1,113.6 109.9,113.2C110.7,112.9 111.6,112.5 112.4,112.2C113.2,111.8 114.1,111.5 114.9,111.2C115.7,110.9 116.6,110.6 117.4,110.3C118.2,110.0 119.1,109.7 119.9,109.5C120.7,109.2 121.6,108.9 122.4,108.7C123.2,108.4 124.1,108.2 124.9,107.9C125.7,107.7 126.6,107.5 127.4,107.3C128.2,107.0 129.1,106.8 129.9,106.6C130.7,106.4 131.6,106.2 132.4,106.0C133.2,105.8 134.1,105.6 134.9,105.5C135.7,105.3 136.6,105.1 137.4,104.9C138.2,104.7 139.1,104.6 139.9,104.4C140.7,104.2 141.6,104.1 142.4,103.9C143.2,103.8 144.1,103.6 144.9,103.5C145.7,103.3 146.6,103.2 147.4,103.0C148.2,102.8 149.1,102.7 149.9,102.5C150.7,102.4 151.6,102.3 152.4,102.1C153.2,102.0 154.1,101.8 154.9,101.7C155.7,101.5 156.6,101.4 157.4,101.2C158.2,101.1 159.1,100.9 159.9,100.8C160.7,100.6 161.6,100.5 162.4,100.3C163.2,100.2 164.1,100.0 164.9,99.9C165.7,99.8 166.6,99.6 167.4,99.5C168.2,99.3 169.1,99.2 169.9,99.0C170.7,98.9 171.6,98.8 172.4,98.6C173.2,98.5 174.1,98.3 174.9,98.2C175.7,98.1 176.6,97.9 177.4,97.8C178.2,97.6 179.1,97.5 179.9,97.4C180.7,97.2 181.6,97.1 182.4,97.0C183.2,96.8 184.1,96.7 184.9,96.6C185.7,96.4 186.6,96.3 187.4,96.2C188.2,96.0 189.1,95.9 189.9,95.8C190.7,95.6 191.6,95.5 192.4,95.4C193.2,95.2 194.1,95.1 194.9,95.0C195.7,94.9 196.6,94.7 197.4,94.6C198.2,94.5 199.1,94.4 199.9,94.2C200.7,94.1 201.6,94.0 202.4,93.9C203.2,93.8 204.1,93.6 204.9,93.5C205.7,93.4 206.6,93.3 207.4,93.2C208.2,93.0 209.1,92.9 209.9,92.8C210.7,92.7 211.6,92.6 212.4,92.5C213.2,92.4 214.1,92.3 214.9,92.1C215.7,92.0 216.6,91.9 217.4,91.8C218.2,91.7 219.1,91.6 219.9,91.5C220.7,91.4 221.6,91.3 222.4,91.2C223.2,91.1 224.1,91.0 224.9,90.9C225.7,90.8 226.6,90.7 227.4,90.6C228.2,90.5 229.1,90.4 229.9,90.3C230.7,90.2 231.6,90.1 232.4,90.0C233.2,89.9 234.1,89.8 234.9,89.8C235.7,89.7 236.6,89.6 237.4,89.5C238.2,89.4 239.1,89.3 239.9,89.2C240.7,89.2 241.6,89.1 242.4,89.0C243.2,88.9 244.1,88.8 244.9,88.8C245.7,88.7 246.6,88.6 247.4,88.5C248.2,88.5 249.1,88.4 249.9,88.3C250.7,88.3 251.6,88.2 252.4,88.1C253.2,88.1 254.1,88.0 254.9,87.9C255.7,87.9 256.6,87.8 257.4,87.7C258.2,87.7 259.1,87.6 259.9,87.6C260.7,87.5 261.6,87.4 262.4,87.4C263.2,87.3 264.1,87.3 264.9,87.2C265.7,87.2 266.6,87.1 267.4,87.1C268.2,87.0 269.1,87.0 269.9,86.9C270.7,86.9 271.6,86.8 272.4,86.8C273.2,86.7 274.1,86.7 274.9,86.6C275.7,86.6 276.6,86.5 277.4,86.5C278.2,86.4 279.1,86.4 279.9,86.3C280.7,86.3 281.6,86.2 282.4,86.2C283.2,86.2 284.1,86.1 284.9,86.1C285.7,86.0 286.6,86.0 287.4,85.9C288.2,85.9 289.1,85.9 289.9,85.8C290.7,85.8 291.6,85.7 292.4,85.7C293.2,85.6 294.1,85.6 294.9,85.6C295.7,85.5 296.6,85.5 297.4,85.4C298.2,85.4 299.1,85.3 299.9,85.3C300.7,85.3 301.6,85.2 302.4,85.2C303.2,85.1 304.1,85.1 304.9,85.0C305.7,85.0 306.6,84.9 307.4,84.9C308.2,84.8 309.1,84.8 309.9,84.8C310.7,84.7 311.6,84.7 312.4,84.6C313.2,84.6 314.1,84.5 314.9,84.5C315.7,84.4 316.6,84.4 317.4,84.3C318.2,84.2 319.1,84.2 319.9,84.1C320.7,84.1 321.8,84.0 322.4,84.0C323.0,83.9 323.3,83.9 323.5,83.9" stroke="#ff3030" stroke-width="0.85" stroke-opacity="0.45"/>
<path d="M57.40,150.65C57.8,150.4 59.1,149.9 59.9,149.4C60.7,149.0 61.6,148.4 62.4,147.9C63.2,147.3 64.1,146.7 64.9,146.1C65.7,145.5 66.6,144.9 67.4,144.2C68.2,143.5 69.1,142.8 69.9,142.1C70.7,141.4 71.6,140.6 72.4,139.9C73.2,139.2 74.1,138.4 74.9,137.7C75.7,136.9 76.6,136.1 77.4,135.4C78.2,134.7 79.1,133.9 79.9,133.2C80.7,132.5 81.6,131.8 82.4,131.1C83.2,130.4 84.1,129.7 84.9,129.0C85.7,128.4 86.6,127.7 87.4,127.1C88.2,126.4 89.1,125.8 89.9,125.2C90.7,124.6 91.6,124.0 92.4,123.5C93.2,122.9 94.1,122.3 94.9,121.8C95.7,121.3 96.6,120.7 97.4,120.2C98.2,119.7 99.1,119.2 99.9,118.8C100.7,118.3 101.6,117.8 102.4,117.4C103.2,116.9 104.1,116.5 104.9,116.1C105.7,115.7 106.6,115.3 107.4,114.9C108.2,114.5 109.1,114.2 109.9,113.8C110.7,113.4 111.6,113.1 112.4,112.8C113.2,112.4 114.1,112.1 114.9,111.8C115.7,111.5 116.6,111.2 117.4,110.9C118.2,110.6 119.1,110.3 119.9,110.1C120.7,109.8 121.6,109.5 122.4,109.3C123.2,109.1 124.1,108.8 124.9,108.6C125.7,108.4 126.6,108.1 127.4,107.9C128.2,107.7 129.1,107.5 129.9,107.3C130.7,107.1 131.6,106.9 132.4,106.7C133.2,106.5 134.1,106.3 134.9,106.2C135.7,106.0 136.6,105.8 137.4,105.6C138.2,105.5 139.1,105.3 139.9,105.1C140.7,105.0 141.6,104.8 142.4,104.7C143.2,104.5 144.1,104.4 144.9,104.2C145.7,104.1 146.6,103.9 147.4,103.8C148.2,103.6 149.1,103.5 149.9,103.3C150.7,103.2 151.6,103.0 152.4,102.9C153.2,102.7 154.1,102.6 154.9,102.4C155.7,102.3 156.6,102.1 157.4,102.0C158.2,101.8 159.1,101.7 159.9,101.5C160.7,101.4 161.6,101.2 162.4,101.1C163.2,100.9 164.1,100.8 164.9,100.7C165.7,100.5 166.6,100.4 167.4,100.2C168.2,100.1 169.1,99.9 169.9,99.8C170.7,99.7 171.6,99.5 172.4,99.4C173.2,99.2 174.1,99.1 174.9,99.0C175.7,98.8 176.6,98.7 177.4,98.5C178.2,98.4 179.1,98.3 179.9,98.1C180.7,98.0 181.6,97.9 182.4,97.7C183.2,97.6 184.1,97.5 184.9,97.3C185.7,97.2 186.6,97.1 187.4,96.9C188.2,96.8 189.1,96.7 189.9,96.5C190.7,96.4 191.6,96.3 192.4,96.1C193.2,96.0 194.1,95.9 194.9,95.8C195.7,95.6 196.6,95.5 197.4,95.4C198.2,95.3 199.1,95.1 199.9,95.0C200.7,94.9 201.6,94.8 202.4,94.7C203.2,94.5 204.1,94.4 204.9,94.3C205.7,94.2 206.6,94.1 207.4,93.9C208.2,93.8 209.1,93.7 209.9,93.6C210.7,93.5 211.6,93.4 212.4,93.3C213.2,93.1 214.1,93.0 214.9,92.9C215.7,92.8 216.6,92.7 217.4,92.6C218.2,92.5 219.1,92.4 219.9,92.3C220.7,92.2 221.6,92.1 222.4,92.0C223.2,91.9 224.1,91.8 224.9,91.7C225.7,91.6 226.6,91.5 227.4,91.4C228.2,91.3 229.1,91.2 229.9,91.1C230.7,91.0 231.6,90.9 232.4,90.8C233.2,90.7 234.1,90.6 234.9,90.5C235.7,90.5 236.6,90.4 237.4,90.3C238.2,90.2 239.1,90.1 239.9,90.0C240.7,90.0 241.6,89.9 242.4,89.8C243.2,89.7 244.1,89.6 244.9,89.6C245.7,89.5 246.6,89.4 247.4,89.3C248.2,89.3 249.1,89.2 249.9,89.1C250.7,89.0 251.6,89.0 252.4,88.9C253.2,88.8 254.1,88.7 254.9,88.7C255.7,88.6 256.6,88.5 257.4,88.4C258.2,88.4 259.1,88.3 259.9,88.2C260.7,88.2 261.6,88.1 262.4,88.0C263.2,88.0 264.1,87.9 264.9,87.8C265.7,87.8 266.6,87.7 267.4,87.7C268.2,87.6 269.1,87.5 269.9,87.5C270.7,87.4 271.6,87.4 272.4,87.3C273.2,87.2 274.1,87.2 274.9,87.1C275.7,87.1 276.6,87.0 277.4,87.0C278.2,86.9 279.1,86.9 279.9,86.8C280.7,86.8 281.6,86.7 282.4,86.7C283.2,86.6 284.1,86.6 284.9,86.6C285.7,86.5 286.6,86.5 287.4,86.4C288.2,86.4 289.1,86.3 289.9,86.3C290.7,86.2 291.6,86.2 292.4,86.1C293.2,86.1 294.1,86.1 294.9,86.0C295.7,86.0 296.6,85.9 297.4,85.9C298.2,85.8 299.1,85.8 299.9,85.7C300.7,85.7 301.6,85.7 302.4,85.6C303.2,85.6 304.1,85.5 304.9,85.5C305.7,85.4 306.6,85.4 307.4,85.3C308.2,85.3 309.1,85.2 309.9,85.2C310.7,85.1 311.6,85.1 312.4,85.0C313.2,85.0 314.1,85.0 314.9,84.9C315.7,84.9 316.6,84.8 317.4,84.8C318.2,84.7 319.1,84.7 319.9,84.7C320.7,84.6 321.8,84.5 322.4,84.5C323.0,84.5 323.3,84.5 323.5,84.4" stroke="#ff3030" stroke-width="0.85" stroke-opacity="0.68"/>
</g>
<!-- frame -->
<rect x="56.6" y="13" width="1.5" height="195" fill="#5c5c5c"/>
<rect x="57" y="13" width="267" height="1.9" fill="#808080"/>
<rect x="322.1" y="13" width="1.95" height="195" fill="#858585"/>
<rect x="57" y="207" width="267" height="1" fill="#111"/>
<rect x="119.55" y="204.2" width="0.9" height="3" fill="#333"/><rect x="119.55" y="13.9" width="0.9" height="1.1" fill="#222"/><rect x="119.55" y="15" width="0.9" height="2" fill="#8c8c8c"/><rect x="216.15" y="204.2" width="0.9" height="3" fill="#333"/><rect x="216.15" y="13.9" width="0.9" height="1.1" fill="#222"/><rect x="216.15" y="15" width="0.9" height="2" fill="#8c8c8c"/><rect x="312.85" y="204.2" width="0.9" height="3" fill="#333"/><rect x="312.85" y="13.9" width="0.9" height="1.1" fill="#222"/><rect x="312.85" y="15" width="0.9" height="2" fill="#8c8c8c"/><rect x="57.6" y="163.71" width="2.2" height="1" fill="#111"/><rect x="59.8" y="163.71" width="0.8" height="1" fill="#777"/><rect x="320" y="163.71" width="2.6" height="1" fill="#111"/><rect x="57.6" y="120.87" width="2.2" height="1" fill="#111"/><rect x="59.8" y="120.87" width="0.8" height="1" fill="#777"/><rect x="320" y="120.87" width="2.6" height="1" fill="#111"/><rect x="57.6" y="78.03" width="2.2" height="1" fill="#111"/><rect x="59.8" y="78.03" width="0.8" height="1" fill="#777"/><rect x="320" y="78.03" width="2.6" height="1" fill="#111"/><rect x="57.6" y="35.19" width="2.2" height="1" fill="#111"/><rect x="59.8" y="35.19" width="0.8" height="1" fill="#777"/><rect x="320" y="35.19" width="2.6" height="1" fill="#111"/>
<g font-size="12px" fill="#000" stroke="#000" stroke-width="0.15">
<text x="50.2" y="40.14" text-anchor="end" textLength="16" lengthAdjust="spacingAndGlyphs">1.6</text>
<text x="50.2" y="82.98" text-anchor="end" textLength="16" lengthAdjust="spacingAndGlyphs">1.2</text>
<text x="50.2" y="125.82" text-anchor="end" textLength="16" lengthAdjust="spacingAndGlyphs">0.8</text>
<text x="50.2" y="168.66" text-anchor="end" textLength="16" lengthAdjust="spacingAndGlyphs">0.4</text>
<text x="50.2" y="211.50" text-anchor="end">0</text>
<text x="121.35" y="223.3" text-anchor="middle" textLength="16" lengthAdjust="spacingAndGlyphs">0.1</text>
<text x="218.65" y="223.3" text-anchor="middle" textLength="16" lengthAdjust="spacingAndGlyphs">0.2</text>
<text x="314.8" y="223.3" text-anchor="middle" textLength="16" lengthAdjust="spacingAndGlyphs">0.3</text>
<text x="180" y="240">&#8730;t T</text>
<g transform="translate(12,131.8) rotate(-90)"><text><tspan x="0" y="0">P</tspan><tspan x="8.0" y="3.4" font-size="10.3px" stroke-width="0.08">ren</tspan><tspan x="20.4" y="0" textLength="22.35" lengthAdjust="spacing">(T,t)</tspan></text></g>
</g>
<g font-size="11px" stroke-width="0.15">
<text fill="#000" stroke="#000"><tspan x="206.6" y="49.6" textLength="15.3" lengthAdjust="spacingAndGlyphs">T/T</tspan><tspan x="221.9" y="52.1" font-size="9.4px" stroke-width="0.08">c</tspan><tspan x="226.7" y="49.6">=</tspan></text>
<text x="234.7" y="49.6" fill="#2222ff" stroke="#2222ff" stroke-width="0.28" textLength="20.4" lengthAdjust="spacingAndGlyphs">1.09</text>
<text x="277.8" y="61" fill="#ff00ff" stroke="#ff00ff" stroke-width="0.08" textLength="20.7" lengthAdjust="spacingAndGlyphs">1.50</text>
<text x="298.6" y="75" fill="#00c800" stroke="#00c800" stroke-width="0.08">2.00</text>
<text x="293.9" y="97.2" fill="#ff0000" stroke="#ff0000" stroke-width="0.08">2.76</text>
</g>
</svg>
</body></html>
